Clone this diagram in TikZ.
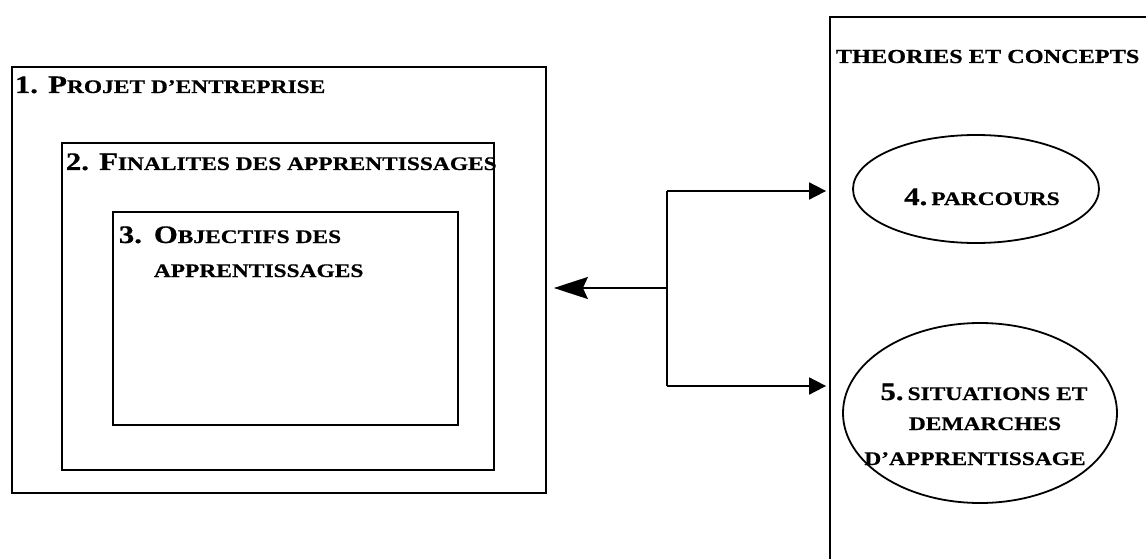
\documentclass[tikz,border=0pt]{standalone}
\usepackage{fontspec}
\setmainfont[FakeStretch=1.22,BoldFeatures={FakeBold=0.6}]{Liberation Serif}
\usetikzlibrary{arrows.meta,shapes.geometric}
\newcommand\bigc[1]{{\fontsize{25.2}{28}\selectfont #1}}
\newcommand\smc[1]{{\fontsize{19.2}{22}\selectfont #1}}
\begin{document}
\begin{tikzpicture}[x=1pt,y=-1pt,line width=1.8pt,
  lbl/.style={inner sep=0pt,anchor=base west,font=\bfseries},
  clbl/.style={inner sep=0pt,anchor=base,font=\bfseries},
  box/.style={draw,line width=1.8pt,inner sep=0pt},
  oval/.style={draw,ellipse,line width=1.8pt,inner sep=0pt},
  bigarrow/.style={line width=1.8pt,-{Stealth[length=34pt,width=22pt,inset=5pt]}},
  smallarrow/.style={line width=1.8pt,-{Triangle[length=17pt,width=17pt]}}]
\useasboundingbox (0,0) rectangle (1146,559);
\clip (0,0) rectangle (1146,559);
% boxes
\node[box,minimum width=534pt,minimum height=426pt] (b1) at (279,280) {};
\node[box,minimum width=432pt,minimum height=327pt] (b2) at (278,306.5) {};
\node[box,minimum width=345pt,minimum height=213pt] (b3) at (285.5,318.5) {};
\node[box,minimum width=340pt,minimum height=573pt] (rb) at (1000,303.5) {};
% ellipses
\node[oval,minimum width=246pt,minimum height=108pt] (e4) at (976,189) {};
\node[oval,minimum width=274pt,minimum height=180pt] (e5) at (980,413) {};
% texts
\node[lbl] (t1) at (14,93) {\bigc{1. P}\smc{ROJET D’ENTREPRISE}};
\node[lbl] (t2) at (65,170) {\bigc{2. F}\smc{INALITES DES APPRENTISSAGES}};
\node[lbl] (t3n) at (118,243) {\bigc{3.}};
\node[lbl] (t3a) at (153,243) {\bigc{O}\smc{BJECTIFS DES}};
\node[lbl] (t3b) at (153,277) {\smc{APPRENTISSAGES}};
\node[lbl] (t6) at (835,63) {{\fontsize{19.9}{22}\selectfont THEORIES ET CONCEPTS}};
\node[clbl] (t4) at (982,205) {\bigc{4.} \smc{PARCOURS}};
\node[clbl] (t5a) at (984,400) {\bigc{5.} \smc{SITUATIONS ET}};
\node[clbl] (t5b) at (985,430) {\smc{DEMARCHES}};
\node[clbl] (t5c) at (975,465) {\smc{D’APPRENTISSAGE}};
% connectors
\coordinate (j1) at (667,191);
\coordinate (j2) at (667,386);
\coordinate (jm) at (667,288);
\draw[line width=1.8pt] (j1) -- (j2);
\draw[bigarrow,shorten >=7pt] (jm) -- (b1.east |- jm);
\draw[smallarrow,shorten >=3pt] (j1) -- (rb.west |- j1);
\draw[smallarrow,shorten >=3pt] (j2) -- (rb.west |- j2);
\end{tikzpicture}
\end{document}
